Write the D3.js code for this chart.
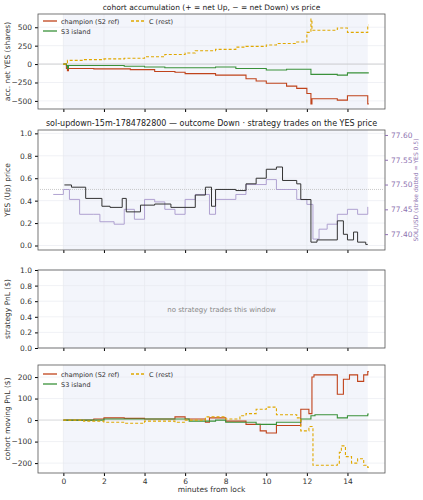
<!DOCTYPE html><html><head><meta charset="utf-8">
<script src="https://cdn.jsdelivr.net/npm/d3@7"></script>
<style>body{margin:0;background:#fff}text{font-family:"DejaVu Sans",sans-serif}</style></head><body>
<svg id="c" width="423" height="500"></svg>
<script>
const accChampT=[0,0.15,0.2,0.25,1.5,3.3,4.5,5.5,6,7.5,9,9.5,10,11,11.5,12,12.2,12.25,13.5,14,15,15.05];
const accChampV=[0,-60,-90,-60,-65,-75,-100,-110,-130,-150,-200,-230,-260,-300,-330,-400,-540,-470,-490,-430,-540,-540];
const accS3T=[0,0.15,0.2,0.25,3,4,5,7.5,8.5,10,11,12.2,13.5,14,15.05];
const accS3V=[0,-20,-60,-20,-30,-40,-50,-40,-60,-80,-70,-140,-150,-120,-120];
const accCT=[0,0.2,1,2,3,4,5,6,6.5,7.5,8.5,9,10,10.5,11.5,12,12.2,12.25,13.5,14,15,15.05];
const accCV=[0,50,60,70,80,100,130,150,180,200,230,240,260,280,300,430,610,460,490,430,530,530];
const yesT=[0.05,0.4,1.1,1.9,2.3,2.9,3.1,3.8,4.5,5.3,6.5,7,7.3,7.5,8.5,9,9.5,10,10.5,10.8,11.5,11.7,12.2,12.5,13.5,13.8,14,14.3,14.5,14.9,15];
const yesV=[0.54,0.52,0.42,0.35,0.34,0.42,0.30,0.36,0.37,0.34,0.45,0.52,0.35,0.5,0.49,0.55,0.6,0.68,0.7,0.58,0.55,0.41,0.03,0.05,0.22,0.1,0.05,0.12,0.03,0.01,0.01];
const solT=[-0.5,0,0.3,0.8,1.5,1.8,2.5,3,3.5,4,4.5,5,5.5,6,6.5,7.2,7.5,8.5,9,10,10.5,11,11.5,12,12.3,12.6,13,13.5,14,14.5,15];
const solV=[77.48,77.49,77.47,77.44,77.44,77.425,77.42,77.45,77.43,77.47,77.465,77.45,77.44,77.47,77.48,77.44,77.47,77.48,77.5,77.51,77.49,77.49,77.47,77.46,77.39,77.41,77.42,77.44,77.45,77.44,77.455];
const pnlChampT=[0,1.5,2,3,4,5.5,6,7,7.2,8,9,9.7,10,10.5,11.7,12.1,12.25,12.35,13.5,13.8,14.1,14.5,14.8,15,15.05];
const pnlChampV=[0,5,10,8,5,15,5,-10,10,-5,-20,-50,-60,-25,50,30,200,210,120,190,210,180,210,225,225];
const pnlS3T=[0,2,6.2,7.5,8,9.5,10.5,11.7,12.2,12.4,13.5,14,15,15.05];
const pnlS3V=[0,5,-5,0,-10,-20,-10,5,20,25,10,20,28,28];
const pnlCT=[0,1,2,3,4,5.5,6,7,8,8.7,9,9.5,10,10.5,11.5,11.7,12.1,12.3,13.5,13.6,13.7,13.9,14.2,14.5,14.8,15,15.05];
const pnlCV=[0,-5,-10,-15,-5,-10,0,15,5,20,30,50,60,25,10,-50,-30,-210,-200,-150,-120,-170,-200,-180,-210,-220,-220];
const xTicks=[0,2,4,6,8,10,12,14];

const svg=d3.select("#c");
const L=38,R=385;
const x=d3.scaleLinear().domain([-1.25,15.85]).range([L,R]);
const COL={ch:"#c0431b",s3:"#3a913a",c:"#e0a800"};
function panel(top,bot,dom,ticks,fmt,label,title){
  const y=d3.scaleLinear().domain(dom).range([bot,top]);
  const g=svg.append("g");
  g.append("rect").attr("x",x(0)).attr("y",top).attr("width",x(15)-x(0)).attr("height",bot-top).attr("fill","#f3f5fb");
  xTicks.forEach(t=>g.append("line").attr("x1",x(t)).attr("x2",x(t)).attr("y1",top).attr("y2",bot).attr("stroke","#e6e8ee").attr("stroke-width",0.6));
  ticks.forEach(t=>g.append("line").attr("x1",L).attr("x2",R).attr("y1",y(t)).attr("y2",y(t)).attr("stroke","#e6e8ee").attr("stroke-width",0.6));
  g.append("g").attr("transform",`translate(${L},0)`).call(d3.axisLeft(y).tickValues(ticks).tickFormat(fmt).tickSize(3)).call(a=>{a.select(".domain").remove();a.selectAll("text").attr("font-size",7.5).attr("fill","#333");});
  g.append("g").attr("transform",`translate(0,${bot})`).call(d3.axisBottom(x).tickValues(xTicks).tickSize(3).tickFormat(d=>"")).call(a=>a.select(".domain").remove());
  g.append("rect").attr("x",L).attr("y",top).attr("width",R-L).attr("height",bot-top).attr("fill","none").attr("stroke","#555").attr("stroke-width",0.8);
  g.append("text").attr("x",10).attr("y",(top+bot)/2).attr("transform",`rotate(-90,10,${(top+bot)/2})`).attr("text-anchor","middle").attr("font-size",7.5).attr("fill","#333").text(label);
  if(title) g.append("text").attr("x",(L+R)/2).attr("y",top-4).attr("text-anchor","middle").attr("font-size",title[1]).attr("fill","#222").text(title[0]);
  return {g,y};
}
function step(g,xs,ys,y,color,w,dash){
  const ln=d3.line().x((d,i)=>x(xs[i])).y(d=>y(d)).curve(d3.curveStepAfter);
  const p=g.append("path").attr("d",ln(ys)).attr("fill","none").attr("stroke",color).attr("stroke-width",w);
  if(dash)p.attr("stroke-dasharray",dash);
}
function legend(g,lx,ly){
  const it=[["champion (S2 ref)",COL.ch,null,0,0],["S3 island",COL.s3,null,0,10],["C (rest)",COL.c,"3,2",88,0]];
  it.forEach(([t,c,d,dx,dy])=>{
    const l=g.append("line").attr("x1",lx+dx).attr("x2",lx+dx+14).attr("y1",ly+dy).attr("y2",ly+dy).attr("stroke",c).attr("stroke-width",1.3);
    if(d)l.attr("stroke-dasharray",d);
    g.append("text").attr("x",lx+dx+18).attr("y",ly+dy+2.5).attr("font-size",6.5).attr("fill","#333").text(t);
  });
}
// panel 1
let p=panel(14,109,[-610,680],[-500,-250,0,250,500],d=>d3.format("")(d).replace("-","−"),"acc. net YES (shares)",["cohort accumulation (+ = net Up, − = net Down) vs price",7.5]);
p.g.append("line").attr("x1",L).attr("x2",R).attr("y1",p.y(0)).attr("y2",p.y(0)).attr("stroke","#bbb").attr("stroke-width",0.6);
step(p.g,accChampT,accChampV,p.y,COL.ch,1.1);
step(p.g,accS3T,accS3V,p.y,COL.s3,1.1);
step(p.g,accCT,accCV,p.y,COL.c,1.1,"3,2");
legend(p.g,43,21);
// panel 2
p=panel(130,250,[-0.04,1.03],[0,0.2,0.4,0.6,0.8,1.0],d3.format(".1f"),"YES (Up) price",["sol-updown-15m-1784782800 — outcome Down · strategy trades on the YES price",8]);
const ys=d3.scaleLinear().domain([77.368,77.61]).range([250,130]);
p.g.append("g").attr("transform",`translate(${R},0)`).call(d3.axisRight(ys).tickValues([77.40,77.45,77.50,77.55,77.60]).tickFormat(d3.format(".2f")).tickSize(3)).call(a=>{a.select(".domain").remove();a.selectAll("text").attr("font-size",7.5).attr("fill","#8e72b0");a.selectAll("line").attr("stroke","#8e72b0");});
p.g.append("text").attr("x",418).attr("y",190).attr("transform","rotate(-90,418,190)").attr("text-anchor","middle").attr("font-size",6).attr("fill","#8e72b0").text("SOL/USD (strike dotted = YES 0.5)");
p.g.append("line").attr("x1",L).attr("x2",R).attr("y1",p.y(0.5)).attr("y2",p.y(0.5)).attr("stroke","#bbb").attr("stroke-width",0.8).attr("stroke-dasharray","1,1");
step(p.g,solT,solV,ys,"#a899cc",0.9);
step(p.g,yesT,yesV,p.y,"#333",1);
// panel 3
p=panel(270,348,[0,1],[0,0.2,0.4,0.6,0.8,1.0],d3.format(".1f"),"strategy PnL ($)");
p.g.append("text").attr("x",(L+R)/2+10).attr("y",312).attr("text-anchor","middle").attr("font-size",7).attr("fill","#888").text("no strategy trades this window");
// panel 4
p=panel(365,473,[-246,256],[-200,-100,0,100,200],d=>d3.format("")(d).replace("-","−"),"cohort moving PnL ($)");
p.g.append("g").attr("transform","translate(0,473)").call(d3.axisBottom(x).tickValues(xTicks).tickSize(0).tickPadding(6)).call(a=>{a.select(".domain").remove();a.selectAll("text").attr("font-size",7.5).attr("fill","#333");});
p.g.append("text").attr("x",(L+R)/2).attr("y",492).attr("text-anchor","middle").attr("font-size",7.5).attr("fill","#333").text("minutes from lock");
p.g.append("line").attr("x1",L).attr("x2",R).attr("y1",p.y(0)).attr("y2",p.y(0)).attr("stroke","#ccc").attr("stroke-width",0.6);
step(p.g,pnlChampT,pnlChampV,p.y,COL.ch,1.1);
step(p.g,pnlS3T,pnlS3V,p.y,COL.s3,1.1);
step(p.g,pnlCT,pnlCV,p.y,COL.c,1.1,"3,2");
legend(p.g,43,374);
</script></body></html>
